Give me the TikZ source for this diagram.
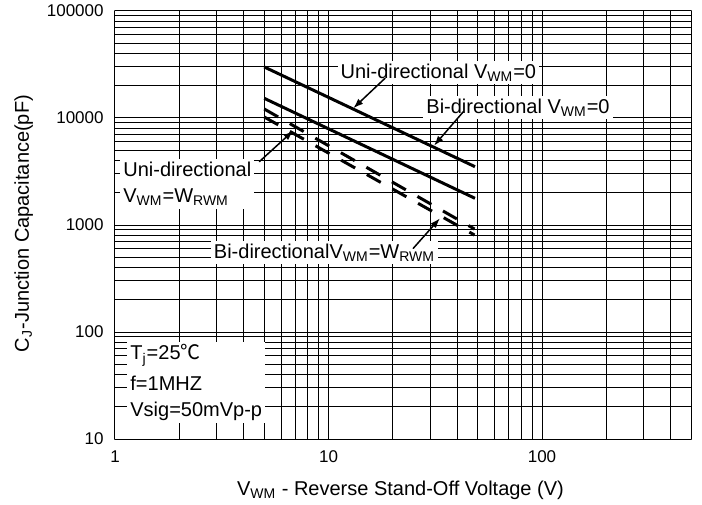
\documentclass[tikz,border=0pt]{standalone}
\usepackage{fontspec}
\setmainfont{Liberation Sans}
\newfontfamily\cjkfont{Noto Sans CJK SC}
\usetikzlibrary{arrows.meta}

\begin{document}
\begin{tikzpicture}[line cap=round,line join=round, x=106.75pt,y=53.5pt,
		gridline/.style={line width=0.5pt,color=black},
		curve/.style={line width=1.5pt,color=black,line cap=butt},
		dashcurve/.style={curve,dash pattern=on 8pt off 6.7pt},
		lbl/.style={fill=white,inner sep=1.5pt,font=\fontsize{10}{12.8}\selectfont},
		ticklbl/.style={inner sep=0pt,font=\fontsize{8.5}{10}\selectfont},
		pointer/.style={-{Latex[length=5pt, width=3.5pt]},line width=0.75pt,color=black}]
						\useasboundingbox (-0.5386,0.3925) rectangle (2.7494,5.1028);
						\foreach \v in {1,2,3,4,5,6,7,8,9,10,20,30,40,50,60,70,80,90,100,200,300,400,500}
						\draw[gridline] ({log10(\v)},1) -- ({log10(\v)},5);
						\foreach \e in {1,2,3,4}
						\foreach \m in {1,...,9}
						\draw[gridline] (0,{\e+log10(\m)}) -- ({log10(500)},{\e+log10(\m)});
						\draw[gridline] (0,5) -- ({log10(500)},5);
						\foreach \e/\t in {1/10,2/100,3/1000,4/10000,5/100000}
						\node[ticklbl,anchor=east] (ytick\e) at (-0.0515,\e) {\t};
						\foreach \e/\t in {0/1,1/10,2/100}
						\node[ticklbl] (xtick\e) at (\e,0.8346) {\t};
						\node[anchor=base,font=\fontsize{10}{12}\selectfont] (xtitle) at (1.337,0.4766) {V\textsubscript{WM} - Reverse Stand-Off Voltage (V)};
						\node[anchor=base,rotate=90,font=\fontsize{10}{12}\selectfont] (ytitle) at (-0.4028,3.014) {C\textsubscript{J}-Junction Capacitance(pF)};
						\coordinate (uz0) at (0.699,4.477);
						\coordinate (uz1) at (1.686,3.545);
						\coordinate (bz0) at (0.699,4.184);
						\coordinate (bz1) at (1.686,3.2495);
						\coordinate (ur0) at (0.699,4.0841);
						\coordinate (ur1) at (1.684,2.9626);
						\coordinate (br0) at (0.699,4.0093);
						\coordinate (br1) at (1.684,2.9065);
						\draw[curve] (uz0) -- (uz1);
						\draw[curve] (bz0) -- (bz1);
						\draw[dashcurve] (ur0) -- (ur1);
						\draw[dashcurve] (br0) -- (br1);
						\node[lbl,anchor=base] (uniZero) at (1.5147,4.371) {Uni-directional V\textsubscript{WM}=0};
						\node[lbl,anchor=base] (biZero) at (1.8876,4.044) {Bi-directional V\textsubscript{WM}=0};
						\node[lbl,anchor=west,align=left] (uniRwm) at (0.0234,3.383) {Uni-directional\\V\textsubscript{WM}=W\textsubscript{RWM}};
						\node[lbl,anchor=base] (biRwm) at (0.9813,2.6888) {Bi-directionalV\textsubscript{WM}=W\textsubscript{RWM}};
						\node[lbl,anchor=west,align=left] (cond) at (0.0562,1.528) {T\textsubscript{j}=25{\cjkfont ℃}\\[2.6pt]f=1MHZ\\Vsig=50mVp-p};
						\coordinate (uzTail) at (1.2646,4.371);
						\coordinate (uzTip) at (1.116,4.091);
						\coordinate (bzTail) at (1.6316,4.059);
						\coordinate (bzTip) at (1.494,3.741);
						\coordinate (urTail) at (0.676,3.592);
						\coordinate (urTip) at (0.835,3.881);
						\coordinate (brTail) at (1.397,2.782);
						\coordinate (brTip) at (1.522,3.063);
						\draw[pointer] (uzTail) -- (uzTip);
						\draw[pointer] (bzTail) -- (bzTip);
						\draw[pointer] (urTail) -- (urTip);
						\draw[pointer] (brTail) -- (brTip);
					\end{tikzpicture}
\end{document}
